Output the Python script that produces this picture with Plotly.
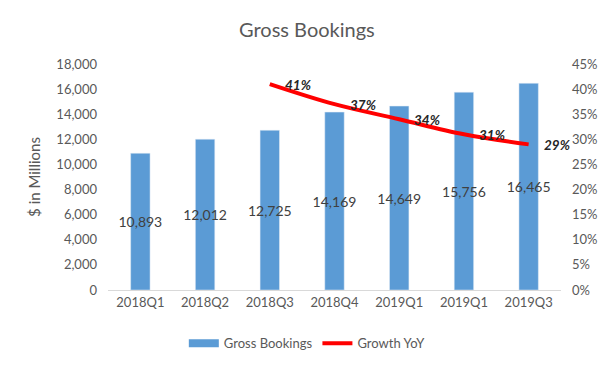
import plotly.graph_objects as go

quarters = ["2018Q1", "2018Q2", "2018Q3", "2018Q4", "2019Q1", "2019Q1", "2019Q3"]
bookings = [10893, 12012, 12725, 14169, 14649, 15756, 16465]
growth_idx = [2, 3, 4, 5, 6]
growth = [0.41, 0.37, 0.34, 0.31, 0.29]
left_ticks = list(range(0, 18001, 2000))
right_ticks = [i / 100 for i in range(0, 46, 5)]

x = list(range(len(quarters)))
gray = "#595959"
blue = "#5B9BD5"
font = "Lato, Calibri, 'Liberation Sans', sans-serif"

fig = go.Figure()
fig.add_trace(go.Bar(
    x=x, y=bookings, name="Gross Bookings", showlegend=False,
    marker=dict(color=blue), width=0.3,
    text=[f"{v:,}" for v in bookings], textposition="inside",
    insidetextanchor="middle", textangle=0, constraintext="none",
    textfont=dict(color="#404040", size=14, family=font),
))
# legend entry for bars (wide swatch like the reference)
fig.add_trace(go.Scatter(
    x=[None], y=[None], mode="lines", name="Gross Bookings",
    line=dict(color=blue, width=8),
))
fig.add_trace(go.Scatter(
    x=growth_idx, y=growth, name="Growth YoY", yaxis="y2",
    mode="lines", line=dict(color="#FF0000", width=4, shape="spline"),
))
for gx, gy in zip(growth_idx, growth):
    fig.add_annotation(
        x=gx, y=gy, yref="y2", xref="x", text=f"<b><i>{round(gy*100)}%</i></b>",
        showarrow=False, xanchor="left", yanchor="middle", xshift=13, yshift=-1,
        font=dict(color="#262626", size=13.5, family=font),
    )

fig.update_layout(
    width=615, height=370,
    margin=dict(l=100, r=62, t=56, b=88),
    paper_bgcolor="white", plot_bgcolor="white",
    font=dict(family=font, color=gray, size=13),
    title=dict(text="Gross Bookings", x=0.486, xanchor="center", y=0.94, yanchor="middle",
               font=dict(size=20, color=gray, family=font)),
    xaxis=dict(tickmode="array", tickvals=x, ticktext=quarters, range=[-0.5, 6.5],
               showgrid=False, showline=True, linecolor="#D9D9D9", linewidth=1,
               ticks="", tickfont=dict(size=13, color=gray)),
    yaxis=dict(range=[0, 18000], tickvals=left_ticks, tickformat=",", showgrid=False,
               zeroline=False, ticks="", ticklabelstandoff=10,
               title=dict(text="$ in Millions", font=dict(size=15, color=gray), standoff=12),
               tickfont=dict(size=13, color=gray)),
    yaxis2=dict(range=[0, 0.45], tickvals=right_ticks, tickformat=".0%", overlaying="y",
                side="right", showgrid=False, zeroline=False, ticks="", ticklabelstandoff=10,
                tickfont=dict(size=13, color=gray)),
    legend=dict(orientation="h", x=0.44, xanchor="center", y=-0.17, yanchor="top",
                font=dict(size=13, color=gray), itemwidth=30),
)

fig.write_html("out.html")
